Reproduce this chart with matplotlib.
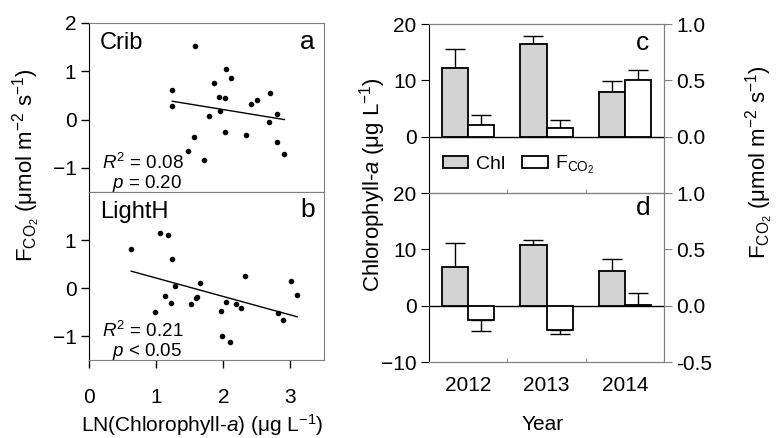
import matplotlib
matplotlib.use("Agg")
import matplotlib.pyplot as plt
import numpy as np

plt.rcParams['font.family'] = ['Liberation Sans', 'DejaVu Sans']
plt.rcParams['mathtext.fontset'] = 'custom'
plt.rcParams['mathtext.rm'] = 'Liberation Sans'
plt.rcParams['mathtext.it'] = 'Liberation Sans:italic'
plt.rcParams['mathtext.bf'] = 'Liberation Sans:bold'

# ---- data: scatter panels ----
crib_x = [1.24, 1.24, 1.58, 1.47, 1.56, 1.72, 1.79, 1.86, 1.93, 1.95, 2.02, 2.03,
          2.04, 2.11, 2.34, 2.41, 2.50, 2.70, 2.68, 2.80, 2.80, 2.91]
crib_y = [0.62, 0.29, 1.52, -0.65, -0.37, -0.83, 0.07, 0.76, 0.46, 0.18, -0.26, 0.44,
          1.04, 0.87, -0.31, 0.32, 0.40, 0.56, -0.06, 0.12, -0.46, -0.72]
crib_fit_x = [1.24, 2.91]
crib_fit_y = [0.38, 0.00]

light_x = [0.63, 1.05, 1.17, 1.24, 0.99, 1.13, 1.22, 1.28, 1.52, 1.59, 1.61, 1.66,
           1.97, 1.98, 2.04, 2.10, 2.19, 2.27, 2.33, 2.81, 2.89, 3.01, 3.10]
light_y = [0.82, 1.14, 1.10, 0.60, -0.51, -0.16, -0.32, 0.04, -0.34, -0.21, -0.19, 0.10,
           -0.47, -0.99, -0.30, -1.12, -0.33, -0.41, 0.26, -0.53, -0.67, 0.15, -0.15]
light_fit_x = [0.63, 3.10]
light_fit_y = [0.35, -0.60]

# ---- data: bar panels ----
years = ['2012', '2013', '2014']
c_chl = [12.2, 16.4, 7.9]
c_chl_err = [3.4, 1.5, 2.0]
c_fco2 = [0.10, 0.077, 0.506]
c_fco2_err = [0.09, 0.07, 0.09]
d_chl = [6.9, 10.7, 6.1]
d_chl_err = [4.3, 1.0, 2.2]
d_fco2 = [-0.125, -0.214, 0.005]
d_fco2_err = [0.098, 0.036, 0.11]

W, H = 782, 438
fig = plt.figure(figsize=(W / 100, H / 100), dpi=100)

def rect(x0, y0, x1, y1):
    return [x0 / W, (H - y1) / H, (x1 - x0) / W, (y1 - y0) / H]

GRAY = '#808080'
TICK_FS = 15

def style_scatter_ax(ax):
    ax.set_xlim(0, 3.5)
    ax.set_ylim(-1.5, 2)
    ax.spines['left'].set_color('black')
    for s in ['top', 'right', 'bottom']:
        ax.spines[s].set_color(GRAY)
    ax.tick_params(axis='both', direction='out', length=6, width=1, labelsize=TICK_FS,
                   color='black', pad=3)

ax_a = fig.add_axes(rect(89, 23, 324, 192))
ax_b = fig.add_axes(rect(89, 192, 324, 360))

for ax, xs, ys, fx, fy in [(ax_a, crib_x, crib_y, crib_fit_x, crib_fit_y),
                           (ax_b, light_x, light_y, light_fit_x, light_fit_y)]:
    style_scatter_ax(ax)
    ax.scatter(xs, ys, s=16, color='black', zorder=3, linewidths=0)
    ax.plot(fx, fy, color='black', lw=1)

ax_a.set_yticks([-1, 0, 1, 2])
ax_a.set_xticks([])
ax_b.set_yticks([-1, 0, 1])
ax_b.set_xticks([0, 1, 2, 3])
ax_b.tick_params(axis='x', pad=14)

ax_a.text(100 / W * 0 + 0.047, 0.88, 'Crib', transform=ax_a.transAxes, fontsize=17,
          va='center', ha='left')
ax_a.text(0.93, 0.89, 'a', transform=ax_a.transAxes, fontsize=19, va='center', ha='center')
ax_b.text(0.047, 0.88, 'LightH', transform=ax_b.transAxes, fontsize=17, va='center', ha='left')
ax_b.text(0.93, 0.89, 'b', transform=ax_b.transAxes, fontsize=19, va='center', ha='center')

ax_a.text(0.055, 0.17, r'$R^2$ = 0.08', transform=ax_a.transAxes, fontsize=13.5, va='center', ha='left')
ax_a.text(0.10, 0.05, r'$p$ = 0.20', transform=ax_a.transAxes, fontsize=13.5, va='center', ha='left')
ax_b.text(0.055, 0.17, r'$R^2$ = 0.21', transform=ax_b.transAxes, fontsize=13.5, va='center', ha='left')
ax_b.text(0.10, 0.05, r'$p$ < 0.05', transform=ax_b.transAxes, fontsize=13.5, va='center', ha='left')

fig.text(27 / W, (H - 165) / H, r'F$_{\mathregular{CO_2}}$ ($\mathregular{\mu}$mol m$^{\mathregular{-2}}$ s$^{\mathregular{-1}}$)',
         rotation=90, ha='center', va='center', fontsize=16)
fig.text(202 / W, (H - 425) / H, r'LN(Chlorophyll-$a$) ($\mathregular{\mu}$g L$^{\mathregular{-1}}$)',
         ha='center', va='center', fontsize=15)

# ---- bar panels ----
ax_c = fig.add_axes(rect(429, 24, 664, 193))
ax_d = fig.add_axes(rect(429, 193, 664, 362))

xpos = np.arange(len(years))
bw = 1 / 3

def bar_panel(ax, chl, chl_err, fco2, fco2_err, show_neg):
    ax2 = ax.twinx()
    ax.set_xlim(-0.5, 2.5)
    ax.set_ylim(-10, 20)
    ax2.set_ylim(-0.5, 1.0)
    ax.bar(xpos - bw / 2, chl, width=bw, color='#d3d3d3', edgecolor='black', linewidth=1.3,
           zorder=2, label='Chl')
    ax.errorbar(xpos - bw / 2, chl, yerr=[np.zeros(3), chl_err], fmt='none', ecolor='black',
                elinewidth=1, capsize=7, capthick=1, zorder=1)
    ax2.bar(xpos + bw / 2, fco2, width=bw, color='white', edgecolor='black', linewidth=1.3,
            zorder=2, label=r'F$_{\mathregular{CO_2}}$')
    lo = [e if v < 0 else 0 for v, e in zip(fco2, fco2_err)]
    hi = [e if v >= 0 else 0 for v, e in zip(fco2, fco2_err)]
    ax2.errorbar(xpos + bw / 2, fco2, yerr=[lo, hi], fmt='none', ecolor='black',
                 elinewidth=1, capsize=7, capthick=1, zorder=1)
    ax.axhline(0, color='black', lw=1, zorder=3)
    ax.spines['left'].set_color('black')
    for s in ['top', 'right', 'bottom']:
        ax.spines[s].set_color(GRAY)
        ax2.spines[s].set_color(GRAY)
    ax2.spines['left'].set_visible(False)
    ax.tick_params(axis='y', direction='out', length=6, labelsize=TICK_FS, pad=3)
    ax2.tick_params(axis='y', direction='out', length=6, labelsize=TICK_FS, pad=3, color=GRAY)
    ax.set_xticks([0.5, 1.5], minor=True)
    ax.tick_params(axis='x', which='minor', direction='in', length=3, color=GRAY)
    if show_neg:
        ax.set_yticks([-10, 0, 10, 20])
        ax2.set_yticks([-0.5, 0.0, 0.5, 1.0])
        ax2.set_yticklabels(['-0.5', '0.0', '0.5', '1.0'])
    else:
        ax.set_yticks([0, 10, 20])
        ax2.set_yticks([0.0, 0.5, 1.0])
        ax2.set_yticklabels(['0.0', '0.5', '1.0'])
    return ax2

ax_c2 = bar_panel(ax_c, c_chl, c_chl_err, c_fco2, c_fco2_err, False)
ax_d2 = bar_panel(ax_d, d_chl, d_chl_err, d_fco2, d_fco2_err, True)

ax_c.set_xticks([])
ax_d.set_xticks(xpos)
ax_d.set_xticklabels(years)
ax_d.tick_params(axis='x', which='major', length=0, labelsize=TICK_FS, pad=10)

h1, l1 = ax_c.get_legend_handles_labels()
h2, l2 = ax_c2.get_legend_handles_labels()
ax_c.legend(h1 + h2, l1 + l2, loc='center left', bbox_to_anchor=(0.0, 0.165), ncol=2,
            frameon=False, fontsize=14, handlelength=1.3, handleheight=0.6,
            handletextpad=0.4, columnspacing=0.9, borderaxespad=0.3)

ax_c.text(0.91, 0.89, 'c', transform=ax_c.transAxes, fontsize=19, va='center', ha='center')
ax_d.text(0.91, 0.91, 'd', transform=ax_d.transAxes, fontsize=19, va='center', ha='center')

fig.text(373 / W, (H - 185) / H, r'Chlorophyll-$a$ ($\mathregular{\mu}$g L$^{\mathregular{-1}}$)',
         rotation=90, ha='center', va='center', fontsize=16)
fig.text(760 / W, (H - 162) / H, r'F$_{\mathregular{CO_2}}$ ($\mathregular{\mu}$mol m$^{\mathregular{-2}}$ s$^{\mathregular{-1}}$)',
         rotation=90, ha='center', va='center', fontsize=16)
fig.text(543 / W, (H - 425) / H, 'Year', ha='center', va='center', fontsize=15)

fig.savefig('out.png', dpi=100)
